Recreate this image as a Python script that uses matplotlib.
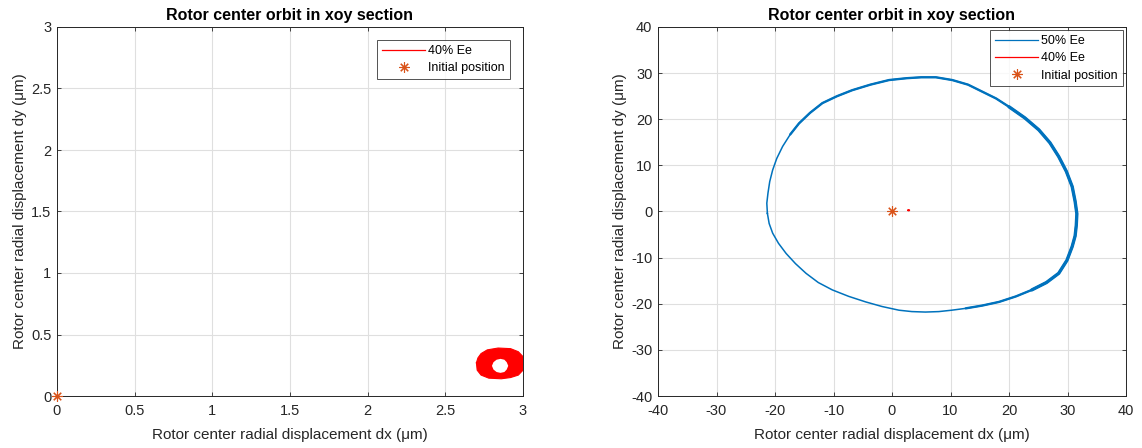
import matplotlib
matplotlib.use("Agg")
import matplotlib.pyplot as plt
from matplotlib.path import Path
from matplotlib.patches import PathPatch

# 50% Ee orbit (um), going clockwise from the left side
orbit50_x = [-21.3, -21.4, -21.2, -20.9, -20.4, -19.7, -18.7, -17.4, -15.9, -14.0,
             -11.9, -9.4, -6.8, -3.7, -0.5, 2.5, 5.0, 7.5, 10.3, 13.0,
             15.4, 17.8, 20.0, 22.7, 25.1, 27.0, 28.5, 29.8, 30.8, 31.3,
             31.6, 31.5, 31.3, 30.8, 29.9, 28.5, 26.4, 23.9, 21.2, 18.3,
             15.4, 12.6, 10.2, 8.0, 5.7, 3.4, 1.2, -1.7, -4.5, -7.4,
             -10.2, -12.6, -14.7, -16.5, -18.1, -19.4, -20.4, -21.0, -21.3]
orbit50_y = [-0.4, 1.8, 4.0, 6.5, 9.0, 11.5, 14.1, 16.7, 19.1, 21.4,
             23.5, 25.0, 26.3, 27.5, 28.5, 28.9, 29.1, 29.1, 28.5, 27.5,
             26.0, 24.5, 22.7, 20.3, 17.7, 14.9, 11.9, 8.7, 5.4, 2.2,
             -0.5, -3.0, -5.3, -7.6, -10.6, -13.4, -15.4, -17.0, -18.4, -19.6,
             -20.4, -21.0, -21.4, -21.7, -21.8, -21.7, -21.4, -20.6, -19.6, -18.4,
             -17.0, -15.4, -13.4, -11.3, -9.1, -6.9, -4.7, -2.6, -0.4]

# 40% Ee orbit band (um): outer edge and inner hole
orbit40_out_x = [2.70, 2.71, 2.73, 2.77, 2.84, 2.92, 2.97, 3.00, 3.01, 3.00,
                 2.97, 2.92, 2.86, 2.78, 2.73, 2.705, 2.70]
orbit40_out_y = [0.27, 0.31, 0.345, 0.375, 0.39, 0.385, 0.36, 0.32, 0.27, 0.21,
                 0.17, 0.15, 0.14, 0.145, 0.17, 0.21, 0.27]
orbit40_in_x = [2.80, 2.81, 2.83, 2.855, 2.88, 2.895, 2.905, 2.895, 2.88, 2.855,
                2.83, 2.81, 2.80]
orbit40_in_y = [0.245, 0.275, 0.295, 0.302, 0.295, 0.275, 0.245, 0.215, 0.195, 0.188,
                0.195, 0.215, 0.245]

init_pos = (0.0, 0.0)

BLUE = "#0072BD"
ORANGE = "#D95319"
FONT = ["Liberation Sans", "DejaVu Sans"]
plt.rcParams["font.family"] = FONT
plt.rcParams["axes.edgecolor"] = "#262626"
plt.rcParams["xtick.color"] = "#262626"
plt.rcParams["ytick.color"] = "#262626"

fig = plt.figure(figsize=(11.42, 4.48), dpi=100)
ax1 = fig.add_axes([57 / 1142, 52 / 448, 466 / 1142, 369 / 448])
ax2 = fig.add_axes([658 / 1142, 52 / 448, 468 / 1142, 369 / 448])


def band40(ax, label):
    verts = list(zip(orbit40_out_x, orbit40_out_y)) + list(zip(orbit40_in_x[::-1], orbit40_in_y[::-1]))
    codes = ([Path.MOVETO] + [Path.LINETO] * (len(orbit40_out_x) - 1)
             + [Path.MOVETO] + [Path.LINETO] * (len(orbit40_in_x) - 1))
    ax.add_patch(PathPatch(Path(verts, codes), facecolor="red", edgecolor="none", zorder=3))
    ax.plot(orbit40_out_x, orbit40_out_y, color="red", lw=0.8, label=label, zorder=3)


def style(ax, lim, ticks, ticklabels):
    ax.set_xlim(lim)
    ax.set_ylim(lim)
    ax.set_xticks(ticks)
    ax.set_yticks(ticks)
    ax.set_xticklabels(ticklabels, fontsize=10.5)
    ax.set_yticklabels(ticklabels, fontsize=10.5)
    ax.grid(True, color="#DFDFDF", lw=0.8)
    ax.set_axisbelow(True)
    ax.tick_params(direction="in", length=3, width=0.6, top=True, right=True,
                   labeltop=False, labelright=False)
    ax.tick_params(axis="x", pad=6)
    ax.tick_params(axis="y", pad=4)
    for s in ax.spines.values():
        s.set_linewidth(0.7)
    ax.set_title("Rotor center orbit in xoy section", fontsize=11.5, fontweight="bold", pad=5)
    ax.set_xlabel("Rotor center radial displacement dx (\u03bcm)", fontsize=11, color="#262626", labelpad=7)
    ax.set_ylabel("Rotor center radial displacement dy (\u03bcm)", fontsize=11, color="#262626", labelpad=3)


def init_marker(ax):
    ax.plot([init_pos[0]], [init_pos[1]], linestyle="none", marker=(8, 2, 0), ms=7.5,
            mew=0.8, color=ORANGE, label="Initial position", clip_on=False, zorder=4)


def legend(ax, anchor):
    leg = ax.legend(loc="upper right", fontsize=9, frameon=True, fancybox=False,
                    edgecolor="#262626", borderpad=0.4, handlelength=3.45,
                    handletextpad=0.25, labelspacing=0.42, borderaxespad=0,
                    bbox_to_anchor=anchor)
    leg.get_frame().set_linewidth(0.7)
    for h in leg.get_lines():
        h.set_linewidth(0.9)


# left panel: 40% Ee only
band40(ax1, "40% Ee")
init_marker(ax1)
t1 = [0, 0.5, 1, 1.5, 2, 2.5, 3]
style(ax1, (0, 3), t1, ["0", "0.5", "1", "1.5", "2", "2.5", "3"])
legend(ax1, (453 / 466, 1 - 13 / 369))

# right panel: 50% vs 40%
ax2.plot(orbit50_x, orbit50_y, color=BLUE, lw=1.1, label="50% Ee", zorder=2,
         solid_joinstyle="round")
ax2.plot(orbit50_x[7:42], orbit50_y[7:42], color=BLUE, lw=1.7, zorder=2,
         solid_joinstyle="round", solid_capstyle="round")
ax2.plot(orbit50_x[22:38], orbit50_y[22:38], color=BLUE, lw=2.4, zorder=2,
         solid_joinstyle="round", solid_capstyle="round")
band40(ax2, "40% Ee")
init_marker(ax2)
t2 = list(range(-40, 41, 10))
style(ax2, (-40, 40), t2, [str(v) for v in t2])
legend(ax2, (465 / 468, 1 - 3 / 369))

fig.savefig("out.png", dpi=100, facecolor="white")
